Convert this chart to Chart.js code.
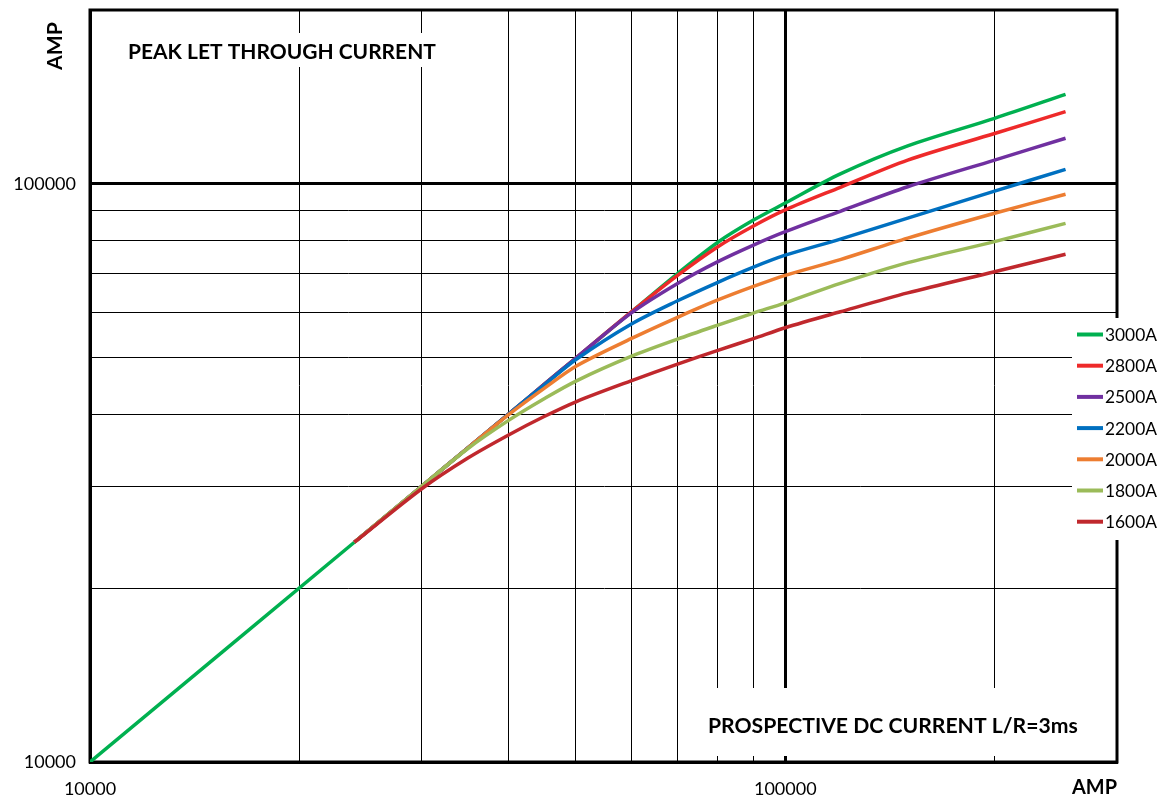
<!DOCTYPE html>
<html>
<head>
<meta charset="utf-8">
<script src="https://cdn.jsdelivr.net/npm/chart.js@4.4.1/dist/chart.umd.min.js"></script>
<style>
  html, body { margin: 0; padding: 0; background: #ffffff; }
  #wrap { position: relative; width: 1157px; height: 798px; }
</style>
</head>
<body>
<div id="wrap"><canvas id="c" width="1157" height="798"></canvas></div>
<script>
// ---------------- DATA ----------------
const prospectiveCurrent = [10000, 24000, 30000, 35000, 40000, 45000, 50000, 60000, 70000, 80000, 90000, 100000, 120000, 150000, 200000, 253000];

const seriesLabels = ['3000A', '2800A', '2500A', '2200A', '2000A', '1800A', '1600A'];

const peak3000A = [10000, 24000, 30000, 35000, 40000, 45000, 50000, 60000, 70000, 79300, 86600, 92700, 104100, 116400, 129900, 142900];
const peak2800A = [null, 24000, 30000, 35000, 40000, 45000, 50000, 60000, 69500, 77900, 84600, 90200, 98700, 110000, 122300, 133400];
const peak2500A = [null, 24000, 30000, 35000, 40000, 45000, 50000, 59800, 67300, 73400, 78400, 82700, 89700, 98900, 110000, 120000];
const peak2200A = [null, 24000, 30000, 35000, 40000, 44900, 49700, 57200, 62800, 67600, 71800, 75300, 80300, 87300, 97200, 106000];
const peak2000A = [null, 24000, 30000, 35000, 39900, 44300, 48400, 54000, 58800, 63000, 66500, 69500, 74000, 80600, 89000, 96000];
const peak1800A = [null, 24000, 30000, 34900, 39000, 42500, 45600, 50300, 53900, 57000, 59800, 62300, 67300, 73100, 79500, 85500];
const peak1600A = [null, 24000, 29700, 33600, 36800, 39600, 42000, 45650, 48800, 51550, 54000, 56400, 60100, 64800, 70500, 75600];

const xGridTicks = [10000, 20000, 30000, 40000, 50000, 60000, 70000, 80000, 90000, 100000, 200000, 300000];
const yGridTicks = [10000, 20000, 30000, 40000, 50000, 60000, 70000, 80000, 90000, 100000, 200000];
const xTickLabels = [10000, 100000];
const yTickLabels = [10000, 100000];

const titleText = 'PEAK LET THROUGH CURRENT';
const subtitleText = 'PROSPECTIVE DC CURRENT L/R=3ms';
const axisUnit = 'AMP';

// ---------------- STYLE ----------------
const FONT = 'Lato, "Open Sans", "DejaVu Sans", sans-serif';
const seriesColors = {
  '3000A': '#00B050',
  '2800A': '#EE2A2A',
  '2500A': '#7030A0',
  '2200A': '#0070C0',
  '2000A': '#ED7D31',
  '1800A': '#9BBB59',
  '1600A': '#C0282D'
};
const seriesValues = {
  '3000A': peak3000A, '2800A': peak2800A, '2500A': peak2500A, '2200A': peak2200A,
  '2000A': peak2000A, '1800A': peak1800A, '1600A': peak1600A
};

function toPoints(values) {
  const pts = [];
  values.forEach((v, i) => { if (v !== null) pts.push({ x: prospectiveCurrent[i], y: v }); });
  return pts;
}

// draw order: lower ratings on top (dataset 0 is drawn last in Chart.js)
const drawOrder = seriesLabels.slice().reverse();
const datasets = drawOrder.map(lbl => ({
  label: lbl,
  data: toPoints(seriesValues[lbl]),
  borderColor: seriesColors[lbl],
  backgroundColor: seriesColors[lbl],
  borderWidth: 3.5,
  pointRadius: 0,
  fill: false,
  tension: 0.3
}));

function isLabelTick(v, list) {
  return list.some(t => Math.abs(v - t) / t < 1e-6);
}

function fitSize(ctx, text, weight, width) {
  ctx.font = weight + ' 100px ' + FONT;
  const w = ctx.measureText(text).width;
  return 100 * width / w;
}

const annotations = {
  id: 'annotations',
  beforeDatasetsDraw(chart) {
    const ctx = chart.ctx;
    const a = chart.chartArea;
    ctx.save();
    // plot frame
    ctx.strokeStyle = '#000';
    ctx.lineWidth = 3;
    ctx.strokeRect(a.left, a.top, a.right - a.left, a.bottom - a.top);

    // white boxes behind texts
    ctx.fillStyle = '#fff';
    ctx.fillRect(118, 33, 328, 34);
    ctx.fillRect(695, 688, a.right - 2 - 695, 68);

    ctx.fillStyle = '#000';
    ctx.textBaseline = 'alphabetic';
    ctx.textAlign = 'left';
    let s = fitSize(ctx, titleText, 'bold', 308);
    ctx.font = 'bold ' + s + 'px ' + FONT;
    ctx.fillText(titleText, 128, 59);

    s = fitSize(ctx, subtitleText, 'bold', 370);
    ctx.font = 'bold ' + s + 'px ' + FONT;
    ctx.fillText(subtitleText, 708, 733);

    s = fitSize(ctx, axisUnit, 'bold', 45);
    ctx.font = 'bold ' + s + 'px ' + FONT;
    ctx.fillText(axisUnit, 1072, 794);

    s = fitSize(ctx, axisUnit, 'bold', 48);
    ctx.font = 'bold ' + s + 'px ' + FONT;
    ctx.translate(62, 70);
    ctx.rotate(-Math.PI / 2);
    ctx.fillText(axisUnit, 0, 0);
    ctx.restore();
  },
  afterDraw(chart) {
    const ctx = chart.ctx;
    ctx.save();
    ctx.fillStyle = '#fff';
    ctx.fillRect(1072, 318, 85, 222);
    const size = fitSize(ctx, '2800A', 'normal', 52);
    seriesLabels.forEach((lbl, i) => {
      const y = 334.5 + 31.2 * i;
      ctx.strokeStyle = seriesColors[lbl];
      ctx.lineWidth = 4;
      ctx.beginPath();
      ctx.moveTo(1077, y);
      ctx.lineTo(1103, y);
      ctx.stroke();
      ctx.fillStyle = '#000';
      ctx.font = 'normal ' + size + 'px ' + FONT;
      ctx.textBaseline = 'alphabetic';
      ctx.textAlign = 'left';
      ctx.fillText(lbl, 1105, y + 6.5);
    });
    ctx.restore();
  }
};

const gridWidth = (c) => (c.tick && Math.abs(c.tick.value - 100000) < 1 ? 3 : 1);

new Chart(document.getElementById('c'), {
  type: 'line',
  data: { datasets },
  options: {
    responsive: false,
    animation: false,
    devicePixelRatio: 1,
    layout: { padding: { top: 10, right: 40, left: 0, bottom: 0 } },
    plugins: { legend: { display: false }, tooltip: { enabled: false } },
    scales: {
      x: {
        type: 'logarithmic',
        min: 10000,
        max: 300000,
        afterBuildTicks: (s) => { s.ticks = xGridTicks.map(v => ({ value: v })); },
        afterFit: (s) => { s.height = 36; s.paddingLeft = 0; s.paddingRight = 0; },
        grid: { color: '#000', lineWidth: gridWidth, drawTicks: false },
        border: { display: true, color: '#000', width: 3 },
        ticks: {
          autoSkip: false,
          maxRotation: 0,
          minRotation: 0,
          padding: 16,
          color: '#000',
          font: { family: FONT, size: 18 },
          callback: (v) => (isLabelTick(v, xTickLabels) ? String(Math.round(v)) : '')
        }
      },
      y: {
        type: 'logarithmic',
        min: 10000,
        max: 200000,
        afterBuildTicks: (s) => { s.ticks = yGridTicks.map(v => ({ value: v })); },
        afterFit: (s) => { s.width = 90; s.paddingTop = 0; s.paddingBottom = 0; },
        grid: { color: '#000', lineWidth: gridWidth, drawTicks: false },
        border: { display: true, color: '#000', width: 3 },
        ticks: {
          autoSkip: false,
          padding: 14,
          color: '#000',
          font: { family: FONT, size: 18 },
          callback: (v) => (isLabelTick(v, yTickLabels) ? String(Math.round(v)) : '')
        }
      }
    }
  },
  plugins: [annotations]
});
</script>
</body>
</html>
